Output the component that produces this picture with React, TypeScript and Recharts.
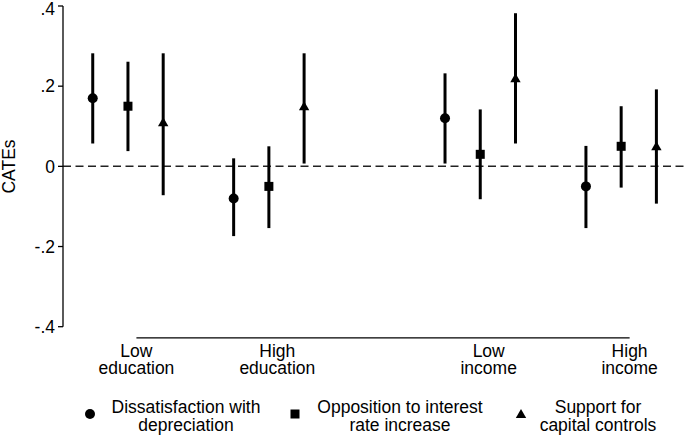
import React from 'react';
import { ComposedChart, Scatter, XAxis, YAxis, ReferenceLine, ErrorBar, Legend, Label } from 'recharts';

// ---- data ----
const categories = ['Low education', 'High education', 'Low income', 'High income'];
const groupPositions = [0, 1, 2.5, 3.5];
const seriesOffsets = [-0.25, 0, 0.25];
const tickOffset = 0.06;

const seriesNames = [
  'Dissatisfaction with depreciation',
  'Opposition to interest rate increase',
  'Support for capital controls',
];
const seriesLegendLines = [
  ['Dissatisfaction with', 'depreciation'],
  ['Opposition to interest', 'rate increase'],
  ['Support for', 'capital controls'],
];

const depreciationEst = [0.17, -0.08, 0.12, -0.05];
const depreciationLow = [0.057, -0.174, 0.007, -0.154];
const depreciationHigh = [0.282, 0.02, 0.232, 0.051];

const interestEst = [0.15, -0.05, 0.03, 0.05];
const interestLow = [0.038, -0.154, -0.082, -0.053];
const interestHigh = [0.261, 0.05, 0.142, 0.15];

const capitalEst = [0.11, 0.15, 0.22, 0.05];
const capitalLow = [-0.072, 0.007, 0.057, -0.093];
const capitalHigh = [0.282, 0.282, 0.382, 0.192];

const yTicks = [-0.4, -0.2, 0, 0.2, 0.4];
const yTickLabels = ['-.4', '-.2', '0', '.2', '.4'];

// ---- build series ----
const buildSeries = (est: number[], low: number[], high: number[], s: number) =>
  est.map((v, i) => ({
    x: groupPositions[i] + seriesOffsets[s],
    y: v,
    err: [v - low[i], high[i] - v],
  }));

const seriesData = [
  buildSeries(depreciationEst, depreciationLow, depreciationHigh, 0),
  buildSeries(interestEst, interestLow, interestHigh, 1),
  buildSeries(capitalEst, capitalLow, capitalHigh, 2),
];

const xTicks = groupPositions.map((g) => g + tickOffset);

const FONT = '"Liberation Sans", Arial, Helvetica, sans-serif';
const FS = 17.5;

const CircleShape = (p: any) => <circle cx={p.cx} cy={p.cy} r={5} fill="#000" />;
const SquareShape = (p: any) => (
  <rect x={p.cx - 4.5} y={p.cy - 4.5} width={9} height={9} fill="#000" />
);
const TriangleShape = (p: any) => (
  <path
    d={`M${p.cx},${p.cy - 5}L${p.cx + 5.2},${p.cy + 4}L${p.cx - 5.2},${p.cy + 4}Z`}
    fill="#000"
  />
);
const shapes = [CircleShape, SquareShape, TriangleShape];

const CategoryTick = (props: any) => {
  const { x, y, payload } = props;
  const i = xTicks.findIndex((t) => Math.abs(t - payload.value) < 1e-6);
  const words = (categories[i] || '').split(' ');
  return (
    <text x={x} y={y} textAnchor="middle" fill="#000" fontSize={FS} fontFamily={FONT}>
      <tspan x={x} dy={29.8}>{words[0]}</tspan>
      <tspan x={x} dy={17.5}>{words.slice(1).join(' ')}</tspan>
    </text>
  );
};

const ValueTick = (props: any) => {
  const { x, y, payload } = props;
  const i = yTicks.findIndex((t) => Math.abs(t - payload.value) < 1e-9);
  const shift = i === yTicks.length - 1 ? 3 : 0;
  return (
    <text
      x={x}
      y={y + shift}
      dy="0.355em"
      textAnchor="end"
      fill="#000"
      fontSize={FS}
      fontFamily={FONT}
    >
      {yTickLabels[i]}
    </text>
  );
};

const legendMarkerX = [90, 295, 521];
const legendTextX = [186, 400, 598];

const LegendContent = () => (
  <div
    style={{
      position: 'relative',
      width: 685,
      height: 40,
      fontFamily: FONT,
      fontSize: FS,
      lineHeight: '18px',
      color: '#000',
    }}
  >
    {seriesLegendLines.map((lines, i) => {
      const Shape = shapes[i];
      return (
        <React.Fragment key={seriesNames[i]}>
          <svg
            width={14}
            height={14}
            style={{ position: 'absolute', left: legendMarkerX[i] - 7, top: 15.5 - 7 }}
          >
            <Shape cx={7} cy={7} />
          </svg>
          <div
            style={{
              position: 'absolute',
              left: legendTextX[i] - 110,
              width: 220,
              top: 0,
              textAlign: 'center',
              whiteSpace: 'nowrap',
            }}
          >
            {lines.map((l) => (
              <div key={l}>{l}</div>
            ))}
          </div>
        </React.Fragment>
      );
    })}
  </div>
);

export default function App() {
  return (
    <div style={{ position: 'absolute', left: 0, top: 0, width: 685, height: 435, background: '#fff' }}>
      <ComposedChart
        width={685}
        height={435}
        margin={{ top: 6, right: 0, bottom: 48.3, left: 0 }}
      >
        <XAxis
          type="number"
          dataKey="x"
          domain={[-0.461, 3.953]}
          allowDataOverflow
          ticks={xTicks}
          axisLine={false}
          tickLine={false}
          tickSize={0}
          tickMargin={0}
          height={60}
          interval={0}
          tick={<CategoryTick />}
        />
        <YAxis
          type="number"
          domain={[-0.4, 0.4]}
          allowDataOverflow
          ticks={yTicks}
          interval={0}
          width={63}
          tickSize={5}
          tickMargin={3}
          axisLine={{ stroke: '#000', strokeWidth: 1.3 }}
          tickLine={{ stroke: '#000', strokeWidth: 1.3 }}
          tick={<ValueTick />}
        >
          <Label
            content={() => (
              <text
                x={15}
                y={166.5}
                transform="rotate(-90 15 166.5)"
                textAnchor="middle"
                fill="#000"
                fontSize={FS}
                fontFamily={FONT}
              >
                CATEs
              </text>
            )}
          />
        </YAxis>
        <ReferenceLine y={0} stroke="#222" strokeWidth={1.5} strokeDasharray="8 4.5" />
        <ReferenceLine
          segment={[
            { x: xTicks[0], y: -0.428 },
            { x: xTicks[xTicks.length - 1], y: -0.428 },
          ]}
          stroke="#000"
          strokeWidth={1.3}
          ifOverflow="visible"
        />
        {seriesData.map((d, i) => (
          <Scatter
            key={seriesNames[i]}
            name={seriesNames[i]}
            data={d}
            dataKey="y"
            fill="#000"
            shape={shapes[i]}
            isAnimationActive={false}
          >
            <ErrorBar
              dataKey="err"
              direction="y"
              width={0}
              stroke="#000"
              strokeWidth={3}
              isAnimationActive={false}
            />
          </Scatter>
        ))}
        <Legend
          layout="horizontal"
          verticalAlign="middle"
          align="center"
          content={<LegendContent />}
          wrapperStyle={{ top: 398, left: 0, width: 685 }}
        />
      </ComposedChart>
    </div>
  );
}
